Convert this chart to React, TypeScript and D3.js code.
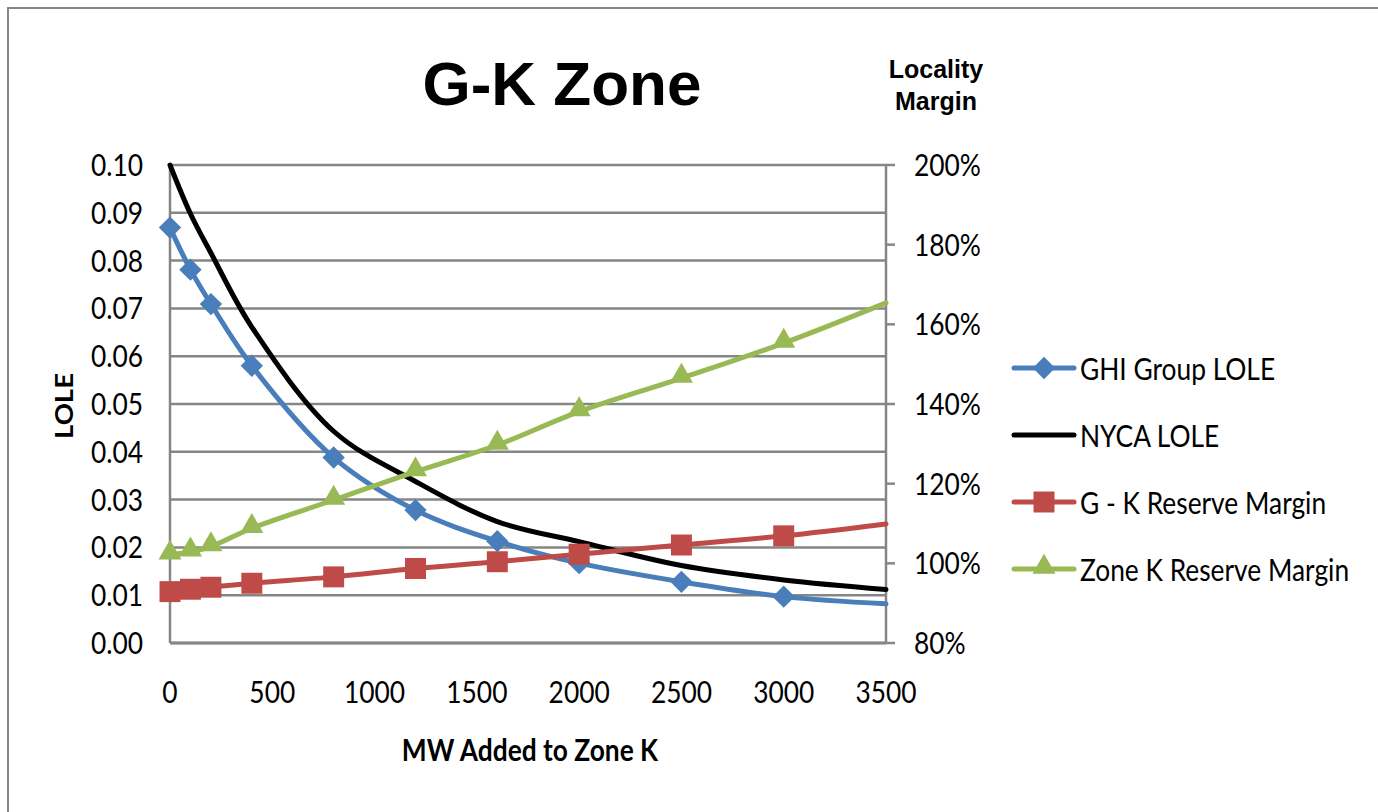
import React from 'react';
import * as d3 from 'd3';

// MW added to Zone K
const mwAdded = [0, 100, 200, 400, 800, 1200, 1600, 2000, 2500, 3000, 3500];
// LOLE series (left axis)
const ghiLole = [0.0869, 0.0781, 0.0709, 0.058, 0.0388, 0.0278, 0.0213, 0.0167, 0.0128, 0.0097, 0.0082];
const nycaLole = [0.1, 0.0898, 0.0816, 0.0661, 0.0443, 0.0338, 0.0254, 0.0212, 0.0162, 0.0132, 0.0112];
// reserve margins, % (right axis)
const gkMargin = [92.9, 93.5, 94.0, 95.0, 96.6, 98.7, 100.4, 102.3, 104.6, 106.9, 109.9];
const zoneKMargin = [102.1, 102.9, 104.2, 108.8, 115.9, 123.0, 129.7, 138.1, 146.5, 155.3, 165.4];

const xTicks = [0, 500, 1000, 1500, 2000, 2500, 3000, 3500];
const leftTicks = [0, 0.01, 0.02, 0.03, 0.04, 0.05, 0.06, 0.07, 0.08, 0.09, 0.1];
const rightTicks = [80, 100, 120, 140, 160, 180, 200];

const W = 1378;
const H = 812;
const plot = { left: 170, right: 886, top: 165, bottom: 643 };

const FONT = 'Lato, "Open Sans", sans-serif';
const SQUEEZE = 0.85; // labels in the original look horizontally condensed
const GRID = '#868686';

const x = d3.scaleLinear().domain([0, 3500]).range([plot.left, plot.right]);
const yL = d3.scaleLinear().domain([0, 0.1]).range([plot.bottom, plot.top]);
const yR = d3.scaleLinear().domain([80, 200]).range([plot.bottom, plot.top]);

type Pt = { x: number; y: number };

const series = [
  { name: 'GHI Group LOLE', color: '#4A7EBB', marker: 'diamond', values: ghiLole, scale: yL },
  { name: 'NYCA LOLE', color: '#000000', marker: 'none', values: nycaLole, scale: yL },
  { name: 'G - K Reserve Margin', color: '#BE4B48', marker: 'square', values: gkMargin, scale: yR },
  { name: 'Zone K Reserve Margin', color: '#98B954', marker: 'triangle', values: zoneKMargin, scale: yR }
];

const symbolPath = (kind: string) => {
  if (kind === 'diamond') return d3.symbol(d3.symbolSquare, 250)() || '';
  if (kind === 'square') return d3.symbol(d3.symbolSquare, 440)() || '';
  if (kind === 'triangle') return d3.symbol(d3.symbolTriangle, 230)() || '';
  return '';
};

const Marker = ({ kind, cx, cy, color }: { kind: string; cx: number; cy: number; color: string }) => {
  if (kind === 'none') return null;
  const rot = kind === 'diamond' ? ' rotate(45)' : '';
  const dy = kind === 'triangle' ? -2 : 0;
  return <path d={symbolPath(kind)} transform={`translate(${cx},${cy + dy})${rot}`} fill={color} />;
};

const Label = ({
  x: tx,
  y: ty,
  anchor,
  size,
  weight,
  children
}: {
  x: number;
  y: number;
  anchor: 'start' | 'middle' | 'end';
  size: number;
  weight?: string;
  children: React.ReactNode;
}) => (
  <g transform={`translate(${tx},${ty}) scale(${SQUEEZE},1)`}>
    <text textAnchor={anchor} fontFamily={FONT} fontSize={size} fontWeight={weight || 'normal'} fill="#000">
      {children}
    </text>
  </g>
);

export default function App() {
  const line = (scale: d3.ScaleLinear<number, number>) =>
    d3
      .line<Pt>()
      .x(d => x(d.x))
      .y(d => scale(d.y))
      .curve(d3.curveCatmullRom.alpha(0.5));

  const fmtPct = (v: number) => `${v}%`;

  return (
    <svg width={W} height={H} style={{ position: 'absolute', left: 0, top: 0, background: '#fff' }}>
      <rect x={8} y={8} width={W + 20} height={H + 20} fill="#fff" stroke="#868686" strokeWidth={2} />

      {/* title */}
      <text x={562} y={105} textAnchor="middle" fontFamily='"Liberation Sans", Arial, sans-serif' fontWeight="bold" fontSize={62}>
        G-K Zone
      </text>
      <text textAnchor="middle" fontFamily='"Liberation Sans", Arial, sans-serif' fontWeight="bold" fontSize={25}>
        <tspan x={936} y={78}>Locality</tspan>
        <tspan x={936} y={110}>Margin</tspan>
      </text>

      {/* gridlines */}
      {leftTicks.map(t => (
        <line key={t} x1={plot.left} x2={plot.right} y1={yL(t)} y2={yL(t)} stroke={GRID} strokeWidth={2.5} />
      ))}
      <line x1={plot.left} x2={plot.left} y1={plot.top} y2={plot.bottom} stroke={GRID} strokeWidth={2.5} />
      <line x1={plot.right} x2={plot.right} y1={plot.top} y2={plot.bottom} stroke={GRID} strokeWidth={2.5} />
      <line x1={plot.left} x2={plot.right} y1={plot.bottom} y2={plot.bottom} stroke={GRID} strokeWidth={3} />
      {rightTicks.map(t => (
        <line key={t} x1={plot.right} x2={plot.right + 9} y1={yR(t)} y2={yR(t)} stroke={GRID} strokeWidth={2.5} />
      ))}

      {/* left axis labels */}
      {leftTicks.map(t => (
        <Label key={t} x={143} y={yL(t) + 11} anchor="end" size={31}>
          {d3.format('.2f')(t)}
        </Label>
      ))}
      {/* right axis labels */}
      {rightTicks.map(t => (
        <Label key={t} x={914} y={yR(t) + 11} anchor="start" size={31}>
          {fmtPct(t)}
        </Label>
      ))}
      {/* x axis labels */}
      {xTicks.map(t => (
        <Label key={t} x={x(t)} y={703} anchor="middle" size={31}>
          {t}
        </Label>
      ))}

      <Label x={530} y={761} anchor="middle" size={31} weight="bold">
        MW Added to Zone K
      </Label>
      <g transform="translate(73,406) rotate(-90) scale(1.1,1)">
        <text textAnchor="middle" fontFamily={FONT} fontSize={25} fontWeight="bold">
          LOLE
        </text>
      </g>

      {/* series */}
      {series.map(s => {
        const pts: Pt[] = mwAdded.map((m, i) => ({ x: m, y: s.values[i] }));
        return (
          <g key={s.name}>
            <path d={line(s.scale)(pts) || ''} fill="none" stroke={s.color} strokeWidth={5} strokeLinecap="round" />
            {pts
              .filter(p => p.x < 3500)
              .map(p => (
                <Marker key={p.x} kind={s.marker} cx={x(p.x)} cy={s.scale(p.y)} color={s.color} />
              ))}
          </g>
        );
      })}

      {/* legend */}
      {series.map((s, i) => {
        const ly = 368 + i * 67;
        return (
          <g key={s.name}>
            <line x1={1014} x2={1074} y1={ly} y2={ly} stroke={s.color} strokeWidth={5} strokeLinecap="round" />
            <Marker kind={s.marker} cx={1044} cy={ly} color={s.color} />
            <Label x={1080} y={ly + 12} anchor="start" size={31}>
              {s.name}
            </Label>
          </g>
        );
      })}
    </svg>
  );
}
